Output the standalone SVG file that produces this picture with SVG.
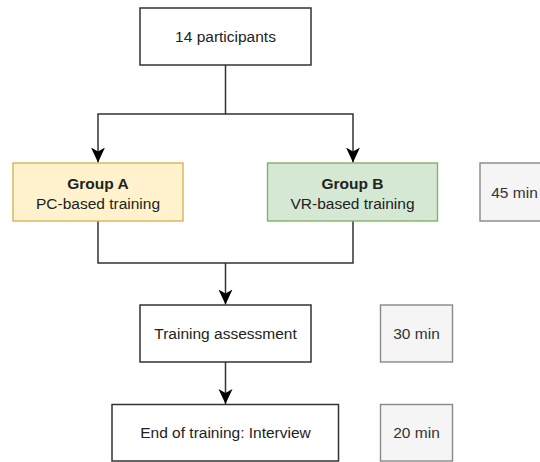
<svg xmlns="http://www.w3.org/2000/svg" width="540" height="462" viewBox="0 0 540 462">
<style>
text { font-family: "Liberation Sans", Arial, sans-serif; font-size: 15.5px; text-anchor: middle; fill: #222; }
.box { fill: #fff; stroke: #333; stroke-width: 1.5; }
.a { fill: #fff2cc; stroke: #d6b656; stroke-width: 1.4; }
.b { fill: #d5e8d4; stroke: #82b366; stroke-width: 1.4; }
.dur { fill: #f5f5f5; stroke: #888; stroke-width: 1.4; }
.dur-t { fill: #333; }
.bold { font-weight: bold; }
.conn { fill: none; stroke: #333; stroke-width: 1.5; }
</style>
<defs>
<marker id="arr" markerUnits="userSpaceOnUse" markerWidth="16" markerHeight="16" refX="15" refY="7" orient="auto">
<path d="M0,0 L15,7 L0,14 L4,7 Z" fill="#000"/>
</marker>
</defs>
<rect width="540" height="462" fill="#fff"/>
<g id="connectors">
<path class="conn" d="M225.5,65 V114 H98 V162.5" marker-end="url(#arr)"/>
<path class="conn" d="M225.5,114 H353 V162.5" marker-end="url(#arr)"/>
<path class="conn" d="M98,221 V263 H353 V221"/>
<path class="conn" d="M225.5,263 V304.5" marker-end="url(#arr)"/>
<path class="conn" d="M225.5,362 V404" marker-end="url(#arr)"/>
</g>
<g id="participants">
<rect class="box" x="140" y="8" width="171" height="57"/>
<text x="225.5" y="42">14 participants</text>
</g>
<g id="groupA">
<rect class="a" x="13" y="163" width="170" height="58"/>
<text class="bold" x="98" y="189">Group A</text>
<text x="98" y="209">PC-based training</text>
</g>
<g id="groupB">
<rect class="b" x="267.5" y="163" width="170" height="58"/>
<text class="bold" x="352.5" y="189">Group B</text>
<text x="352.5" y="209">VR-based training</text>
</g>
<g id="dur45">
<rect class="dur" x="480" y="163" width="72" height="58"/>
<text class="dur-t" x="514.5" y="197.5">45 min</text>
</g>
<g id="assessment">
<rect class="box" x="140" y="305" width="171" height="57"/>
<text x="225.5" y="339">Training assessment</text>
</g>
<g id="dur30">
<rect class="dur" x="380.5" y="305" width="72" height="57"/>
<text class="dur-t" x="416.5" y="339">30 min</text>
</g>
<g id="interview">
<rect class="box" x="112" y="404.5" width="226.5" height="56.5"/>
<text x="225.5" y="438">End of training: Interview</text>
</g>
<g id="dur20">
<rect class="dur" x="380.5" y="404.5" width="72" height="56.5"/>
<text class="dur-t" x="416.5" y="438">20 min</text>
</g>
</svg>
